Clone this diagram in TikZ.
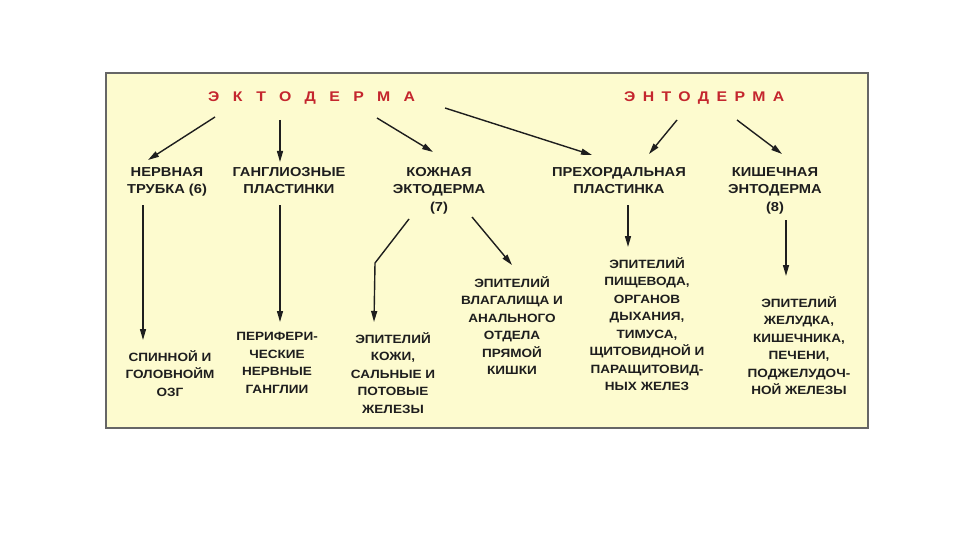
\documentclass[tikz,border=0pt]{standalone}
\usepackage{fontspec}
\setmainfont{Liberation Sans}[FakeStretch=1.13]
\newfontfamily\ttlfont{Liberation Sans}[FakeStretch=1.13]
\usetikzlibrary{arrows.meta}
\definecolor{boxyellow}{RGB}{253,251,207}
\definecolor{ttlred}{RGB}{196,38,46}
\definecolor{inkgray}{RGB}{30,30,30}
\begin{document}
\begin{tikzpicture}[x=1pt,y=-1pt,
  ttl/.style={inner sep=0pt,text=ttlred,font=\ttlfont\bfseries\fontsize{14}{16}\selectfont},
  lbl/.style={inner sep=0pt,anchor=north,align=center,text=inkgray,font=\bfseries\fontsize{13}{17.7}\selectfont},
  sublbl/.style={lbl,font=\bfseries\fontsize{12}{17.5}\selectfont},
  arr/.style={draw=inkgray,line width=1.4pt,-{Triangle[length=11pt,width=6pt]}}]
\useasboundingbox (0,0) rectangle (960,540);
\fill[white] (0,0) rectangle (960,540);
% yellow panel
\draw[line width=1.5pt,draw=black!60,fill=boxyellow] (106,73) rectangle (868,428);
% the two germ layers
\node[ttl,anchor=base west] (ecto) at (208,102) {\addfontfeature{LetterSpace=96}ЭКТОДЕРМА};
\node[ttl,anchor=base west] (ento) at (624,102) {\addfontfeature{LetterSpace=53}ЭНТОДЕРМА};
% middle row
\node[lbl] (nerv) at (167,167) {НЕРВНАЯ\\ТРУБКА (6)};
\node[lbl] (gangl) at (289,167) {ГАНГЛИОЗНЫЕ\\ПЛАСТИНКИ};
\node[lbl] (kozh) at (439,167) {КОЖНАЯ\\ЭКТОДЕРМА\\(7)};
\node[lbl] (prech) at (619,167) {ПРЕХОРДАЛЬНАЯ\\ПЛАСТИНКА};
\node[lbl] (kish) at (775,167) {КИШЕЧНАЯ\\ЭНТОДЕРМА\\(8)};
% bottom row
\node[sublbl] (spin) at (170,350) {СПИННОЙ И\\ГОЛОВНОЙМ\\ОЗГ};
\node[sublbl] (perif) at (277,332) {ПЕРИФЕРИ-\\ЧЕСКИЕ\\НЕРВНЫЕ\\ГАНГЛИИ};
\node[sublbl] (epkozh) at (393,332) {ЭПИТЕЛИЙ\\КОЖИ,\\САЛЬНЫЕ И\\ПОТОВЫЕ\\ЖЕЛЕЗЫ};
\node[sublbl] (epvlag) at (512,276) {ЭПИТЕЛИЙ\\ВЛАГАЛИЩА И\\АНАЛЬНОГО\\ОТДЕЛА\\ПРЯМОЙ\\КИШКИ};
\node[sublbl] (eppish) at (647,257) {ЭПИТЕЛИЙ\\ПИЩЕВОДА,\\ОРГАНОВ\\ДЫХАНИЯ,\\ТИМУСА,\\ЩИТОВИДНОЙ И\\ПАРАЩИТОВИД-\\НЫХ ЖЕЛЕЗ};
\node[sublbl] (epzhel) at (799,296) {ЭПИТЕЛИЙ\\ЖЕЛУДКА,\\КИШЕЧНИКА,\\ПЕЧЕНИ,\\ПОДЖЕЛУДОЧ-\\НОЙ ЖЕЛЕЗЫ};
% arrows from the germ layers
\draw[arr] ([shift={(7,15)}]ecto.base west) -- ([shift={(-19,-7)}]nerv.north);
\draw[arr] ([shift={(72,18)}]ecto.base west) -- ([shift={(-9,-5)}]gangl.north);
\draw[arr] ([shift={(169,16)}]ecto.base west) -- ([shift={(-6,-15)}]kozh.north);
\draw[arr] ([shift={(237,6)}]ecto.base west) -- ([shift={(-27,-12)}]prech.north);
\draw[arr] ([shift={(53,18)}]ento.base west) -- ([shift={(30,-13)}]prech.north);
\draw[arr] ([shift={(113,18)}]ento.base west) -- ([shift={(7,-13)}]kish.north);
% arrows down to the derivatives
\draw[arr] ([shift={(-24,38)}]nerv.north) -- ([shift={(-27,-10)}]spin.north);
\draw[arr] ([shift={(-9,38)}]gangl.north) -- ([shift={(3,-10)}]perif.north);
\draw[arr] ([shift={(-30,52)}]kozh.north) -- ++(-34,44) -- ([shift={(-19,-10)}]epkozh.north);
\draw[arr] ([shift={(33,50)}]kozh.north) -- ([shift={(0,-11)}]epvlag.north);
\draw[arr] ([shift={(9,38)}]prech.north) -- ([shift={(-19,-10)}]eppish.north);
\draw[arr] ([shift={(11,53)}]kish.north) -- ([shift={(-13,-20)}]epzhel.north);
\end{tikzpicture}
\end{document}
